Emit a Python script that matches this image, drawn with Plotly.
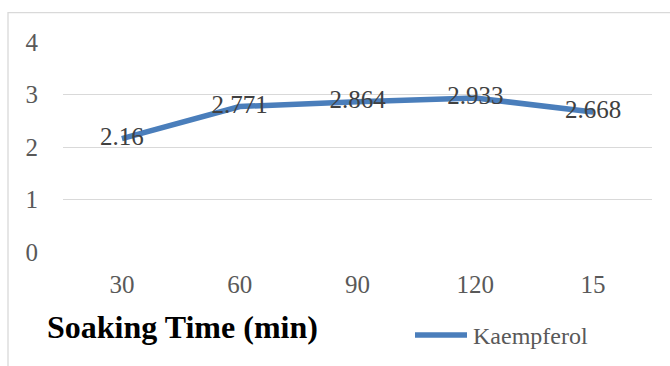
import plotly.graph_objects as go

# Data
soak_times = ["30", "60", "90", "120", "15"]
kaempferol = [2.16, 2.771, 2.864, 2.933, 2.668]
y_ticks = [0, 1, 2, 3, 4]

W, H = 670, 366
L, R, T, B = 63, 18, 42, 114
plot_w = W - L - R
plot_h = H - T - B


def px_x(px):
    return (px - L) / plot_w


def px_y(py):
    return (H - B - py) / plot_h


LINE_COLOR = "#4a7ebb"
SERIF = "Liberation Serif"

fig = go.Figure()
fig.add_trace(go.Scatter(
    x=soak_times,
    y=kaempferol,
    mode="lines+text",
    line=dict(color=LINE_COLOR, width=5.5),
    text=[f"{v:g}" for v in kaempferol],
    textposition="middle center",
    textfont=dict(family=SERIF, size=25, color="#404040"),
    name="Kaempferol",
    showlegend=False,
    cliponaxis=False,
))

fig.update_layout(
    width=W, height=H,
    margin=dict(l=L, r=R, t=T, b=B, pad=0),
    paper_bgcolor="white",
    plot_bgcolor="white",
    xaxis=dict(
        type="category",
        range=[-0.5, len(soak_times) - 0.5],
        showgrid=False, zeroline=False, showline=False,
        ticks="", ticklabelstandoff=15,
        tickfont=dict(family=SERIF, size=25, color="#595959"),
    ),
    yaxis=dict(
        range=[0, 4],
        tickvals=y_ticks,
        showgrid=True, gridcolor="#d9d9d9", gridwidth=1.3,
        zeroline=False, showline=False,
        ticks="", ticklabelstandoff=24,
        tickfont=dict(family=SERIF, size=25, color="#595959"),
    ),
    shapes=[
        # chart frame
        dict(type="rect", xref="paper", yref="paper",
             x0=px_x(8), x1=px_x(690), y0=px_y(400), y1=px_y(12.7),
             line=dict(color="#d9d9d9", width=1.3), fillcolor="rgba(0,0,0,0)",
             layer="below"),
        # legend key
        dict(type="line", xref="paper", yref="paper",
             x0=px_x(415), x1=px_x(467), y0=px_y(335), y1=px_y(335),
             line=dict(color=LINE_COLOR, width=5.5)),
    ],
    annotations=[
        dict(text="<b>Soaking Time (min)</b>", xref="paper", yref="paper",
             x=px_x(182), y=px_y(327), xanchor="center", yanchor="middle",
             showarrow=False,
             font=dict(family="Liberation Serif", size=32, color="black")),
        dict(text="Kaempferol", xref="paper", yref="paper",
             x=px_x(471), y=px_y(336), xanchor="left", yanchor="middle",
             showarrow=False,
             font=dict(family=SERIF, size=24, color="#595959")),
    ],
)

fig.write_html("out.html")
